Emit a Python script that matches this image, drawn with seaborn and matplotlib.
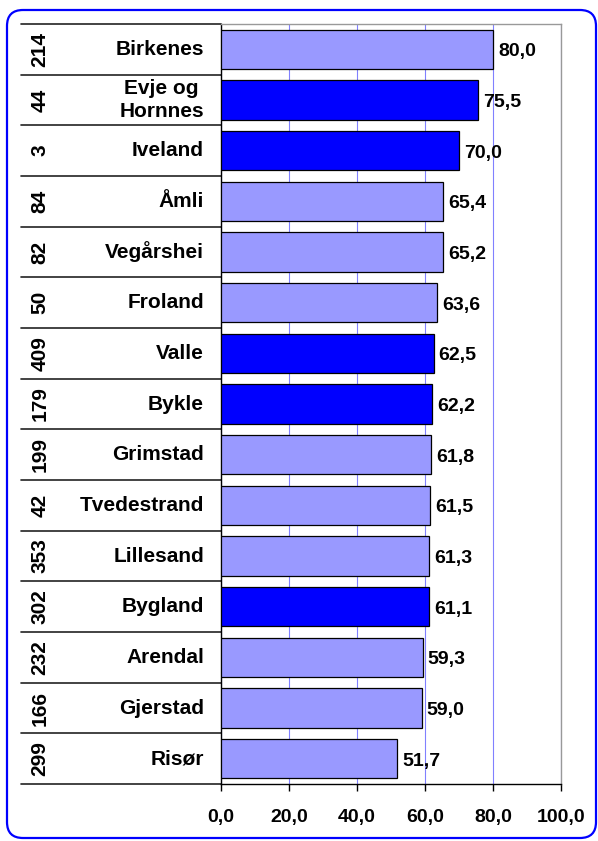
import matplotlib
matplotlib.use('Agg')
import matplotlib.pyplot as plt
import matplotlib.transforms as mtransforms
from matplotlib.patches import FancyBboxPatch
import seaborn as sns

# Data (top to bottom)
names = ['Birkenes', 'Evje og \nHornnes', 'Iveland', 'Åmli', 'Vegårshei', 'Froland',
         'Valle', 'Bykle', 'Grimstad', 'Tvedestrand', 'Lillesand', 'Bygland',
         'Arendal', 'Gjerstad', 'Risør']
codes = ['214', '44', '3', '84', '82', '50', '409', '179', '199', '42', '353',
         '302', '232', '166', '299']
values = [80.0, 75.5, 70.0, 65.4, 65.2, 63.6, 62.5, 62.2, 61.8, 61.5, 61.3,
          61.1, 59.3, 59.0, 51.7]
highlight = [False, True, True, False, False, False, True, True, False, False,
             False, True, False, False, False]

light = '#9999FF'
dark = '#0000FF'
colors = [dark if h else light for h in highlight]

sns.set_style('white')
plt.rcParams['font.family'] = ['Liberation Sans', 'DejaVu Sans']
plt.rcParams['font.weight'] = 'bold'
plt.rcParams['text.color'] = 'black'
plt.rcParams['xtick.color'] = 'black'

fig = plt.figure(figsize=(5.98, 8.41), dpi=100)
ax = fig.add_axes([221 / 598, 57 / 841, 340 / 598, 760 / 841])

sns.barplot(x=values, y=list(range(len(names))), hue=list(range(len(names))),
            palette=colors, saturation=1, orient='h', legend=False, width=0.77,
            edgecolor='black', linewidth=0.9, ax=ax, zorder=3)

ax.set_xlim(0, 100)
ax.set_ylim(len(names) - 0.5, -0.5)
ax.set_xticks([0, 20, 40, 60, 80, 100])
ax.set_xticklabels([f'{t:.1f}'.replace('.', ',') for t in ax.get_xticks()],
                   fontsize=14, fontweight='bold')
ax.tick_params(axis='x', direction='out', length=5, width=1, color='black',
               labelcolor='black', pad=13, bottom=True)
ax.set_yticks([])
ax.set_ylabel('')
ax.set_axisbelow(True)
ax.grid(axis='x', color='#8080FF', linewidth=0.8)

for s in ['top', 'right']:
    ax.spines[s].set_color('#999999')
    ax.spines[s].set_linewidth(1)
for s in ['bottom', 'left']:
    ax.spines[s].set_color('black')
    ax.spines[s].set_linewidth(1)

# value labels
for i, v in enumerate(values):
    ax.text(v + 1.5, i + 0.05, f'{v:.1f}'.replace('.', ','), va='center', ha='left',
            fontsize=14, fontweight='bold', color='black', zorder=4)

# label table at the left
trans = mtransforms.blended_transform_factory(ax.transAxes, ax.transData)
x_left = (21 - 221) / 340
for b in range(len(names) + 1):
    ax.plot([x_left, 0], [b - 0.5, b - 0.5], color='#222222', linewidth=1.2,
            transform=trans, clip_on=False)
for i, (n, c) in enumerate(zip(names, codes)):
    ax.text((204 - 221) / 340, i, n, transform=trans, ha='right', va='center',
            multialignment='right', fontsize=15, fontweight='bold', color='black',
            linespacing=1.25)
    ax.text((40 - 221) / 340, i, c, transform=trans, ha='center', va='center',
            rotation=90, fontsize=15, fontweight='bold', color='black')

# rounded blue frame
frame = FancyBboxPatch((7, 3), 589, 828, boxstyle='round,pad=0,rounding_size=16',
                       transform=mtransforms.IdentityTransform(), facecolor='none',
                       edgecolor='#0000FF', linewidth=1.6)
fig.patches.append(frame)

fig.savefig('out.png', dpi=100)
